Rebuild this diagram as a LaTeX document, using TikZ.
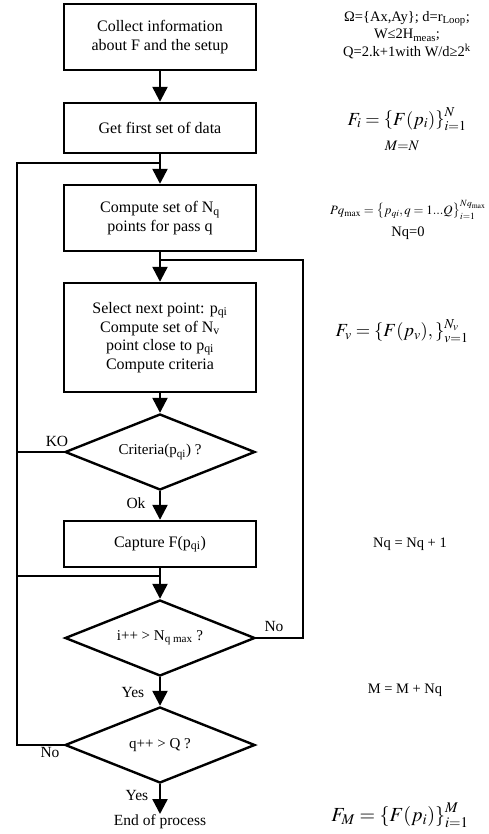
\documentclass[tikz,border=0pt]{standalone}
\usepackage{mathptmx}
\usepackage{fontspec}
\setmainfont{Liberation Serif}
\usetikzlibrary{shapes.geometric,arrows.meta}
\tikzset{
  box/.style={draw, line width=2.4pt, minimum width=192pt, align=center, inner sep=2pt, font=\fontsize{16}{18.5}\selectfont},
  dia/.style={draw, diamond, line width=2.4pt, minimum width=190pt, minimum height=76pt, shape aspect=2.5, inner sep=0pt, font=\fontsize{15}{17}\selectfont},
  arr/.style={line width=2.4pt, -{Triangle[width=15pt,length=15pt]}},
  ln/.style={line width=2.4pt},
  lbl/.style={font=\fontsize{15.5}{18}\selectfont, inner sep=0pt},
  note/.style={font=\fontsize{14.5}{17.5}\selectfont, align=center, inner sep=0pt},
  bigmath/.style={font=\fontsize{18.5}{22}\selectfont, inner sep=0pt}
}
\begin{document}
\begin{tikzpicture}[x=1pt,y=-1pt]
\useasboundingbox (0,0) rectangle (489,834);
% main boxes
\node[box, minimum height=66pt] (b1) at (160,37) {Collect information\\about F and the setup};
\node[box, minimum height=50pt] (b2) at (160,128) {Get first set of data};
\node[box, minimum height=66pt] (b3) at (160,218) {Compute set of N\textsubscript{q}\\points for pass q};
\node[box, minimum height=109pt] (b4) at (160,337.5) {Select next point: p\textsubscript{qi}\\Compute set of N\textsubscript{v}\\point close to p\textsubscript{qi}\\Compute criteria};
\node[dia] (d1) at (160,452) {Criteria(p\textsubscript{qi}) ?};
\node[box, minimum height=46pt] (b5) at (160,544) {Capture F(p\textsubscript{qi})};
\node[dia] (d2) at (160,638) {i++ > N\textsubscript{q max} ?};
\node[dia] (d3) at (160,745) {q++ > Q ?};
\node[lbl, anchor=north] (end) at (160,814) {End of process};

% junction coordinates
\coordinate (Ltop) at (17,163);
\coordinate (J1) at (160,163);
\coordinate (Lko) at (17,452);
\coordinate (Lcap) at (17,576);
\coordinate (J2) at (160,576);
\coordinate (Rtop) at (303,260);
\coordinate (J3) at (160,260);

% main arrows
\draw[arr] (b1) -- (b2);
\draw[arr] (b2) -- (b3);
\draw[arr] (b3) -- (b4);
\draw[arr] (b4) -- (d1);
\draw[arr] (d1) -- (b5);
\draw[arr] (b5) -- (d2);
\draw[arr] (d2) -- (d3);
\draw[arr] (d3) -- (end);

% loops
\draw[ln] (d3.west) -| (Ltop) -- (J1);
\draw[ln] (d1.west) -- (Lko);
\draw[ln] (Lcap) -- (J2);
\draw[ln] (d2.east) -| (Rtop) -- (J3);

% labels
\node[lbl] (ko) at (57,441) {KO};
\node[lbl] (ok) at (136,503) {Ok};
\node[lbl] (no1) at (274,626) {No};
\node[lbl] (yes1) at (133,692) {Yes};
\node[lbl] (no2) at (50,752) {No};
\node[lbl] (yes2) at (137,795) {Yes};

% right annotations
\node[note] (n1) at (407,35) {Ω=\{Ax,Ay\}; d=r\textsubscript{Loop};\\W≤2H\textsubscript{meas};\\Q=2.k+1with W/d≥2\textsuperscript{k}};
\node[bigmath] (fi) at (407,119) {$F_i=\left\{F(p_i)\right\}_{i=1}^{N}$};
\node[note] (mn) at (402,146) {$M{=}N$};
\node[note, font=\fontsize{12.8}{15}\selectfont] (pq) at (408,210) {$Pq_{\max}=\left\{p_{qi},q=1...Q\right\}_{i=1}^{Nq_{\max}}$};
\node[note] (nq0) at (408,233) {Nq=0};
\node[bigmath] (fv) at (402,331) {$F_v=\left\{F(p_v),\right\}_{v=1}^{N_v}$};
\node[note] (nq1) at (410,544) {Nq = Nq + 1};
\node[note] (mm) at (405,690) {M = M + Nq};
\node[bigmath, font=\fontsize{20}{24}\selectfont] (fm) at (400,815) {$F_M=\left\{F(p_i)\right\}_{i=1}^{M}$};
\end{tikzpicture}
\end{document}
